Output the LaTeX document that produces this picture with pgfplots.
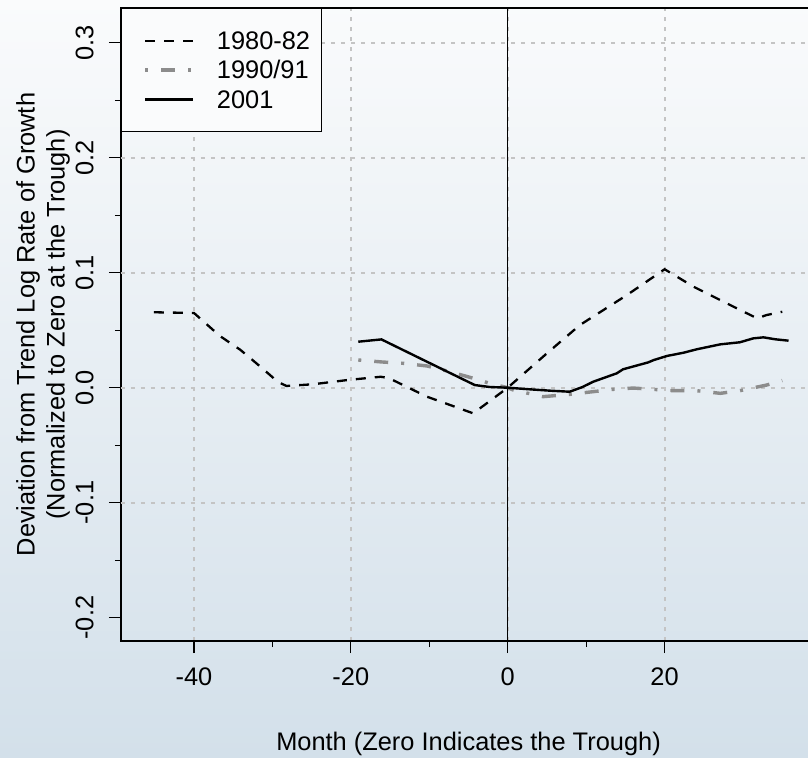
\documentclass[border=0pt]{standalone}
\usepackage{fontspec}
\setmainfont{Liberation Sans}
\usepackage{pgfplots}
\pgfplotsset{compat=1.18}
\definecolor{bgtop}{HTML}{FAFBFC}
\definecolor{bgmid}{HTML}{EDF1F5}
\definecolor{bgbot}{HTML}{D3E0EA}
\definecolor{gridc}{HTML}{C4C4C4}
\definecolor{grayline}{HTML}{8C8C8C}
\begin{document}
\fontsize{12.7}{15}\selectfont
\begin{tikzpicture}[font=\fontsize{12.7}{15}\selectfont]
\shade[top color=bgtop, middle color=bgmid, bottom color=bgbot] (-60.5pt,-58pt) rectangle (343.5pt,320.5pt);
\begin{axis}[
  at={(0pt,0pt)}, anchor=south west,
  scale only axis, width=347.5pt, height=316.5pt,
  xmin=-49.3, xmax=39.3, ymin=-0.2203, ymax=0.3302,
  axis line style={line width=0.7pt},
  xtick={-40,-20,0,20}, xticklabels={-40,-20,0,20},
  ytick={-0.2,-0.1,0,0.1,0.2,0.3}, yticklabels={-0.2,-0.1,0.0,0.1,0.2,0.3},
  minor x tick num=1, minor y tick num=1,
  tick align=outside, tick pos=left,
  major tick length=6pt, minor tick length=3pt,
  tick style={black, line width=0.6pt},
  xmajorgrids=true,
  major grid style={gridc, line width=1pt, dash pattern=on 2pt off 3pt},
  extra y ticks={-0.1,0,0.1,0.2,0.3}, extra y tick labels={},
  extra y tick style={grid=major, major tick length=0pt},
  xticklabel style={anchor=north, inner sep=0pt, yshift=-7.3pt},
  yticklabel style={rotate=90, anchor=south, inner sep=0pt}, yticklabel shift=7.5pt,
  xlabel={Month (Zero Indicates the Trough)},
  xlabel style={at={(axis description cs:0.5,-0.1722)}, anchor=base, inner sep=0pt},
  ylabel={Deviation from Trend Log Rate of Growth\\(Normalized to Zero at the Trough)},
  ylabel style={at={(axis description cs:-0.112,0.5)}, anchor=center, align=center},
  legend cell align=left,
  legend image code/.code={\path (-8pt,0pt); \draw[#1] (0pt,0pt) -- (24pt,0pt);},
  legend style={at={(rel axis cs:0,1)}, anchor=north west, fill=bgtop, draw=black,
    line width=0.5pt, inner xsep=3pt, inner ysep=11.4pt, row sep=5pt,
    nodes={inner sep=0pt, text height=9.2pt, text depth=0.4pt, text width=49.5pt},
    /tikz/every odd column/.append style={column sep=11pt}},
]
\addplot[black, line width=1.15pt, dash pattern=on 5pt off 4.5pt] coordinates {
 (-45.1,0.0656) (-40,0.065) (-36.7,0.045) (-34.1,0.033) (-32,0.021) (-30.3,0.011)
 (-29.3,0.005) (-28.2,0.0015) (-24.8,0.003) (-20.4,0.0067) (-16.2,0.0095)
 (-15.2,0.0085) (-10.3,-0.0078) (-4.4,-0.0223) (0,0) (5,0.0299) (9.2,0.0545)
 (15.2,0.0806) (20,0.103) (23.7,0.0878) (28.8,0.0704) (31.8,0.0603) (33,0.0632) (35,0.066)};
\addlegendentry{1980-82}
\addplot[grayline, line width=1.7pt, dash pattern=on 1.5pt off 6.5pt on 7pt off 6.5pt] coordinates {
 (-19.05,0.0241) (-16.1,0.0224) (-13.3,0.0212) (-10.3,0.0189) (-7.4,0.014) (-4.4,0.0082)
 (-2.3,0.0038) (0,0) (0.7,-0.002) (4.5,-0.0078) (7.9,-0.0058) (13.5,-0.0014) (16,-0.0003)
 (21.1,-0.0026) (24.1,-0.0026) (27.1,-0.0049) (29.6,-0.0026) (33,0.0023) (35,0.0062)};
\addlegendentry{1990/91}
\addplot[black, line width=1.2pt] coordinates {
 (-19.05,0.040) (-16.1,0.042) (-10.3,0.0226) (-4.2,0.0023) (-2.3,0.0006) (0,0)
 (2.8,-0.0014) (5.4,-0.0026) (7.9,-0.0035) (9.5,0.0005) (10.9,0.0052) (13.9,0.0125)
 (14.7,0.016) (17.9,0.022) (18.6,0.024) (20.3,0.0276) (22.4,0.0304) (24.1,0.0334)
 (27.1,0.0377) (29.6,0.0395) (31.3,0.0429) (32.6,0.0438) (34.1,0.0421) (35.8,0.0409)};
\addlegendentry{2001}
\addplot[black, line width=0.5pt, forget plot] coordinates {(0,-0.2203) (0,0.3302)};
\end{axis}
\pgfresetboundingbox
\path[use as bounding box] (-60.5pt,-58pt) rectangle (343.5pt,320.5pt);
\end{tikzpicture}
\end{document}
